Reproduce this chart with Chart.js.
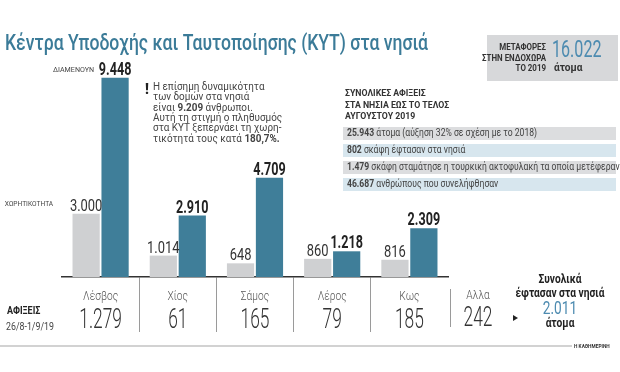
<!DOCTYPE html>
<html>
<head>
<meta charset="utf-8">
<script src="https://cdn.jsdelivr.net/npm/chart.js@4.4.0/dist/chart.umd.min.js"></script>
<style>
  body { margin: 0; background: #fff; }
  canvas { display: block; }
</style>
</head>
<body>
<canvas id="kyt" width="620" height="372"></canvas>
<script>
// ΔΕΔΟΜΕΝΑ
const islands = ['Λέσβος', 'Χίος', 'Σάμος', 'Λέρος', 'Κως'];
const capacity = [3000, 1014, 648, 860, 816];      // ΧΩΡΗΤΙΚΟΤΗΤΑ
const residents = [9448, 2910, 4709, 1218, 2309];  // ΔΙΑΜΕΝΟΥΝ
const arrivals = [1279, 61, 165, 79, 185];         // ΑΦΙΞΕΙΣ 26/8-1/9/19
const otherLabel = 'Αλλα';
const otherArrivals = 242;
const totalArrivals = 2011;
const transfers = 16022;
const infoRows = [
    ['25.943', ' άτομα (αύξηση 32% σε σχέση με το 2018)'],
    ['802', ' σκάφη έφτασαν στα νησιά'],
    ['1.479', ' σκάφη σταμάτησε η τουρκική ακτοφυλακή τα οποία μετέφεραν'],
    ['46.687', ' ανθρώπους που συνελήφθησαν']
];

const GREY = '#cfd0d2';
const BLUE = '#3f7e99';
const FONT = 'Roboto, "Open Sans", sans-serif';

function fmt(v){
    return String(v).replace(/\B(?=(\d{3})+(?!\d))/g, '.');
}

// κείμενο με οριζόντια συμπίεση (condensed)
function txt(ctx, s, x, y, o){
    ctx.save();
    ctx.font = (o.w || 400) + ' ' + o.s + 'px ' + FONT;
    ctx.fillStyle = o.c || '#333';
    ctx.textBaseline = o.b || 'middle';
    ctx.textAlign = 'left';
    let sx = o.sx || 1;
    if (o.fit) sx = o.fit / ctx.measureText(s).width;
    const w = ctx.measureText(s).width * sx;
    const x0 = o.a === 'center' ? x - w / 2 : (o.a === 'right' ? x - w : x);
    ctx.translate(x0, y);
    ctx.scale(sx, 1);
    ctx.fillText(s, 0, 0);
    ctx.restore();
    return w;
}

function rich(ctx, parts, x, y, o){
    parts.forEach(p => {
        x += txt(ctx, p[0], x, y, Object.assign({}, o, {w: p[1] ? 700 : (o.w || 400)}));
    });
}

const decorPlugin = {
    id: 'decor',
    beforeDraw(chart){
        const ctx = chart.ctx;
        ctx.save();
        // κουτί μεταφορών
        ctx.fillStyle = '#d7d8da';
        ctx.fillRect(487, 35, 131, 46);
        // γραμμές πληροφοριών
        infoRows.forEach((r, i) => {
            ctx.fillStyle = i % 2 === 0 ? '#dcdddf' : '#d7e6ee';
            ctx.fillRect(343, 127 + i * 17, 273, 13);
        });
        ctx.restore();
    },
    afterDatasetsDraw(chart){
        const ctx = chart.ctx;
        // ετικέτες τιμών
        chart.getDatasetMeta(0).data.forEach((bar, i) => {
            txt(ctx, fmt(capacity[i]), bar.x, bar.y - 3, {s: 17, w: 400, c: '#333', a: 'center', b: 'alphabetic', sx: 0.76});
        });
        chart.getDatasetMeta(1).data.forEach((bar, i) => {
            txt(ctx, fmt(residents[i]), bar.x, bar.y - 3, {s: 17.5, w: 700, c: '#222', a: 'center', b: 'alphabetic', sx: 0.72});
        });
        const b0 = chart.getDatasetMeta(0).data[0];
        const b1 = chart.getDatasetMeta(1).data[0];
        txt(ctx, 'ΔΙΑΜΕΝΟΥΝ', b1.x - 21, b1.y - 8, {s: 7.5, c: '#444', a: 'right', sx: 0.95});
        txt(ctx, 'ΧΩΡΗΤΙΚΟΤΗΤΑ', b0.x - 33, b0.y - 10, {s: 7.5, c: '#444', a: 'right', sx: 0.88});
    },
    afterDraw(chart){
        const ctx = chart.ctx;
        const x = chart.scales.x;
        const base = chart.chartArea.bottom;

        // τίτλος
        txt(ctx, 'Κέντρα Υποδοχής και Ταυτοποίησης (ΚΥΤ) στα νησιά', 5, 50, {s: 22, w: 500, c: '#3b7b98', b: 'alphabetic', fit: 423});

        // κουτί μεταφορών
        txt(ctx, 'ΜΕΤΑΦΟΡΕΣ', 546, 48, {s: 9, w: 700, c: '#333', a: 'right', sx: 0.88});
        txt(ctx, 'ΣΤΗΝ ΕΝΔΟΧΩΡΑ', 546, 59, {s: 9, w: 700, c: '#333', a: 'right', sx: 0.88});
        txt(ctx, 'ΤΟ 2019', 546, 69, {s: 9, w: 700, c: '#333', a: 'right', sx: 0.88});
        txt(ctx, fmt(transfers), 552, 51, {s: 23, w: 400, c: '#4d8bb0', sx: 0.7});
        txt(ctx, 'άτομα', 554, 68, {s: 11.5, w: 700, c: '#333', sx: 0.88});

        // σημείωση
        txt(ctx, '!', 145, 90, {s: 14, w: 900, c: '#222'});
        const note = [
            [['Η επίσημη δυναμικότητα', 0]],
            [['των δομών στα νησιά', 0]],
            [['είναι ', 0], ['9.209', 1], [' άνθρωποι.', 0]],
            [['Αυτή τη στιγμή ο πληθυσμός', 0]],
            [['στα ΚΥΤ ξεπερνάει τη χωρη-', 0]],
            [['τικότητά τους κατά ', 0], ['180,7%.', 1]]
        ];
        note.forEach((l, i) => rich(ctx, l, 153, 87 + i * 10.4, {s: 11, c: '#444', sx: 0.9}));

        // συνολικές αφίξεις
        ['ΣΥΝΟΛΙΚΕΣ ΑΦΙΞΕΙΣ', 'ΣΤΑ ΝΗΣΙΑ ΕΩΣ ΤΟ ΤΕΛΟΣ', 'ΑΥΓΟΥΣΤΟΥ 2019'].forEach((s, i) => {
            txt(ctx, s, 345, 94 + i * 11.5, {s: 9.5, w: 700, c: '#333', sx: 0.92});
        });
        infoRows.forEach((r, i) => {
            rich(ctx, [[r[0], 1], [r[1], 0]], 347, 133.5 + i * 17, {s: 10, c: '#444', sx: 0.86});
        });

        // πίνακας αφίξεων
        const otherX = x.right + 2;
        ctx.save();
        ctx.strokeStyle = '#9a9a9a';
        ctx.lineWidth = 1;
        ctx.beginPath();
        ctx.moveTo(otherX + 0.5, base + 12);
        ctx.lineTo(otherX + 0.5, base + 50);
        ctx.stroke();
        ctx.strokeStyle = '#d2d2d2';
        ctx.lineWidth = 2;
        ctx.beginPath();
        ctx.moveTo(0, base + 69);
        ctx.lineTo(572, base + 69);
        ctx.stroke();
        ctx.restore();

        islands.forEach((name, i) => {
            const cx = x.getPixelForValue(i);
            txt(ctx, name, cx, base + 20, {s: 12, w: 300, c: '#555', a: 'center', sx: 0.85});
            txt(ctx, fmt(arrivals[i]), cx, base + 44, {s: 28, w: 300, c: '#333', a: 'center', sx: 0.62});
        });
        const ox = otherX + 28;
        txt(ctx, otherLabel, ox, base + 19, {s: 12, w: 300, c: '#555', a: 'center', sx: 0.85});
        txt(ctx, fmt(otherArrivals), ox, base + 42, {s: 28, w: 300, c: '#333', a: 'center', sx: 0.62});

        ctx.save();
        ctx.fillStyle = '#222';
        ctx.beginPath();
        ctx.moveTo(513, base + 38);
        ctx.lineTo(518, base + 41);
        ctx.lineTo(513, base + 44);
        ctx.closePath();
        ctx.fill();
        ctx.restore();

        txt(ctx, 'Συνολικά', 560, base + 3, {s: 12, w: 700, c: '#222', a: 'center', sx: 0.85});
        txt(ctx, 'έφτασαν στα νησιά', 560, base + 17, {s: 12, w: 700, c: '#222', a: 'center', sx: 0.85});
        txt(ctx, fmt(totalArrivals), 560, base + 32, {s: 19, w: 400, c: '#4d8bb0', a: 'center', sx: 0.72});
        txt(ctx, 'άτομα', 560, base + 47, {s: 12, w: 700, c: '#222', a: 'center', sx: 0.85});

        txt(ctx, 'ΑΦΙΞΕΙΣ', 7, base + 34, {s: 10, w: 700, c: '#222', sx: 0.9});
        txt(ctx, '26/8-1/9/19', 6, base + 50, {s: 10, w: 400, c: '#444', sx: 0.88});
        txt(ctx, 'Η ΚΑΘΗΜΕΡΙΝΗ', 574, base + 69, {s: 6, w: 700, c: '#333', sx: 0.8});
    }
};

new Chart(document.getElementById('kyt'), {
    type: 'bar',
    data: {
        labels: islands,
        datasets: [{
            label: 'ΧΩΡΗΤΙΚΟΤΗΤΑ',
            data: capacity,
            backgroundColor: GREY
        }, {
            label: 'ΔΙΑΜΕΝΟΥΝ',
            data: residents,
            backgroundColor: BLUE
        }]
    },
    options: {
        responsive: false,
        animation: false,
        events: [],
        categoryPercentage: 0.75,
        barPercentage: 0.94,
        layout: {
            padding: {left: 62, right: 172, top: 66, bottom: 40}
        },
        plugins: {
            legend: {display: false},
            tooltip: {enabled: false}
        },
        scales: {
            x: {
                grid: {
                    display: true,
                    drawOnChartArea: false,
                    drawTicks: true,
                    tickLength: 55,
                    lineWidth: 1,
                    color: ctx => (ctx.type !== 'tick' || ctx.index === 0) ? 'rgba(0,0,0,0)' : '#9a9a9a'
                },
                border: {display: true, color: '#333', width: 1.5},
                ticks: {display: false}
            },
            y: {
                display: false,
                min: 0,
                max: 10000
            }
        }
    },
    plugins: [decorPlugin]
});
</script>
</body>
</html>
